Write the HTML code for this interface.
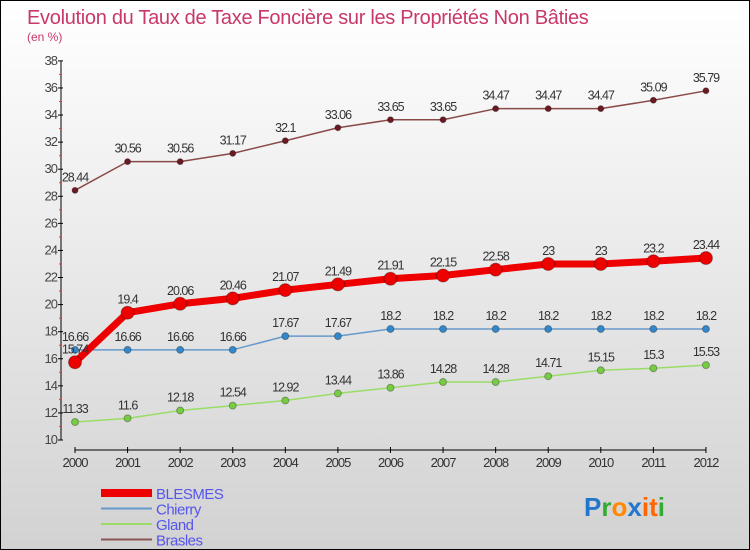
<!DOCTYPE html>
<html><head><meta charset="utf-8"><style>
body{margin:0}
#c{position:relative;width:748px;height:548px;border:1px solid #000;background:linear-gradient(#ffffff,#d2d2d2);overflow:hidden;font-family:"Liberation Sans",sans-serif}
svg{position:absolute;left:0;top:0}
</style></head><body>
<div id="c">
<svg id="s" width="748" height="548"></svg>
</div>
<script>
const years=[2000,2001,2002,2003,2004,2005,2006,2007,2008,2009,2010,2011,2012];
const blesmes=[15.74,19.4,20.06,20.46,21.07,21.49,21.91,22.15,22.58,23,23,23.2,23.44];
const chierry=[16.66,16.66,16.66,16.66,17.67,17.67,18.2,18.2,18.2,18.2,18.2,18.2,18.2];
const gland=[11.33,11.6,12.18,12.54,12.92,13.44,13.86,14.28,14.28,14.71,15.15,15.3,15.53];
const brasles=[28.44,30.56,30.56,31.17,32.1,33.06,33.65,33.65,34.47,34.47,34.47,35.09,35.79];
const yTicks=[10,12,14,16,18,20,22,24,26,28,30,32,34,36,38];
const NS="http://www.w3.org/2000/svg";
const s=document.getElementById('s');
function X(i){return 74+i*52.58;}
function Y(v){return 439-(v-10)*13.54;}
function el(t,a,txt){const e=document.createElementNS(NS,t);for(const k in a)e.setAttribute(k,a[k]);if(txt!==undefined)e.textContent=txt;s.appendChild(e);return e;}
let e;
e=el('text',{x:26,y:23,'font-size':20,fill:'#c8386a','letter-spacing':'-0.3'},'Evolution du Taux de Taxe Foncière sur les Propriétés Non Bâties');

e=el('text',{x:26,y:40,'font-size':12,fill:'#c8386a'},'(en %)');

e=el('line',{x1:60,y1:Y(38),x2:60,y2:Y(10),stroke:'#000'});

e=el('line',{x1:X(0),y1:449,x2:X(12),y2:449,stroke:'#000'});

yTicks.forEach(v=>{
 el('line',{x1:57,y1:Y(v),x2:62,y2:Y(v),stroke:'#000'});
 e=el('text',{x:56,y:Y(v)+4,'font-size':13,fill:'#444','text-anchor':'end','letter-spacing':'-1'},v);
 
 if(v<38)el('line',{x1:58,y1:Y(v+1),x2:60,y2:Y(v+1),stroke:'#e33'});
});
years.forEach((y,i)=>{
 el('line',{x1:X(i),y1:446,x2:X(i),y2:452,stroke:'#000'});
 e=el('text',{x:X(i),y:466,'font-size':13,fill:'#333','text-anchor':'middle','letter-spacing':'-1'},y);
 
});
function series(name,vals,col,w,r,dot,lab){
 const p=vals.map((v,i)=>X(i)+','+Y(v)).join(' ');
 e=el('polyline',{points:p,fill:'none',stroke:col,'stroke-width':w,'stroke-linejoin':'round'});
 
 vals.forEach((v,i)=>{
  e=el('circle',{cx:X(i),cy:Y(v),r:r,fill:dot,stroke:'rgba(0,0,0,0.3)'});
  
  e=el('text',{x:X(i),y:Y(v)-9,'font-size':12.5,fill:'#333','text-anchor':'middle','letter-spacing':'-1'},v);
  
 });
}
series('brasles',brasles,'#8b4a4a',1.5,3,'#6b1a22');
series('gland',gland,'#99dd66',1.5,3.5,'#77cc44');
series('chierry',chierry,'#6699cc',1.5,3.5,'#3388cc');
series('blesmes',blesmes,'#ee0000',7,6.5,'#ee0000');
const leg=[['BLESMES','#ee0000',8],['Chierry','#6699cc',2],['Gland','#99dd66',2],['Brasles','#8b5555',2]];
leg.forEach((l,i)=>{
 const y=492+i*15.5;
 e=el('line',{x1:100,y1:y,x2:151,y2:y,stroke:l[1],'stroke-width':l[2]});
 
 e=el('text',{x:155,y:y+6,'font-size':15,fill:'#5555ee','letter-spacing':'-0.5'},l[0]);
 
});
const g=document.createElementNS(NS,'text');
g.setAttribute('x',583);g.setAttribute('y',515);g.setAttribute('font-size',26);g.setAttribute('font-weight','bold');

[['P','#2277cc'],['r','#33aa33'],['o','#ff8800'],['x','#2277cc'],['i','#ff6600'],['t','#ff6600'],['i','#33aa33']].forEach(c=>{
 const t=document.createElementNS(NS,'tspan');t.setAttribute('fill',c[1]);t.textContent=c[0];g.appendChild(t);});
s.appendChild(g);
</script>
</body></html>
